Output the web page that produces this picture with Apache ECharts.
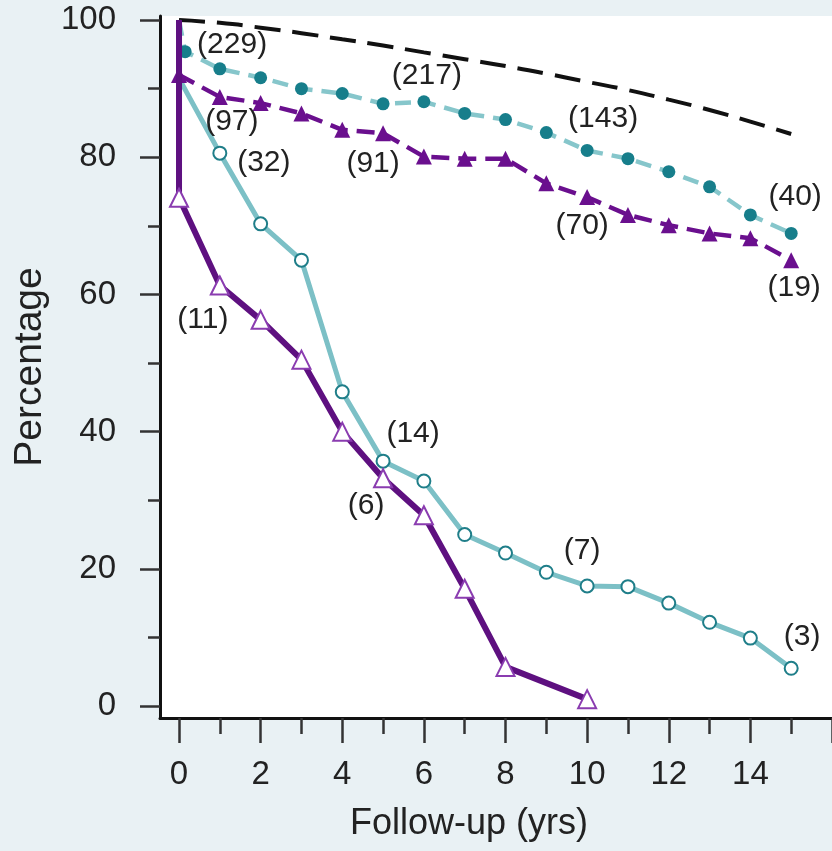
<!DOCTYPE html>
<html>
<head>
<meta charset="utf-8">
<script src="https://cdn.jsdelivr.net/npm/echarts@6/dist/echarts.min.js"></script>
<style>
html,body{margin:0;padding:0;background:#e9f1f4;}
#chart{width:832px;height:851px;}
</style>
</head>
<body>
<div id="chart"></div>
<script>
// ---- data ----
const xTickLabels = [0, 2, 4, 6, 8, 10, 12, 14];
const xMajorTicks = [0, 2, 4, 6, 8, 10, 12, 14, 16];
const xMinorTicks = [1, 3, 5, 7, 9, 11, 13, 15];
const yTickLabels = [0, 20, 40, 60, 80, 100];
const yMinorTicks = [10, 30, 50, 70, 90];

const expectedYears = [0, 1, 2, 3, 4, 5, 6, 7, 8, 9, 10, 11, 12, 13, 14, 15];
const expectedValues = [100, 99.6, 98.9, 98.1, 97.2, 96.3, 95.3, 94.3, 93.3, 92.2, 91.0, 89.8, 88.4, 86.9, 85.2, 83.4];

const tealDashYears = [0, 0.15, 1, 2, 3, 4, 5, 6, 7, 8, 9, 10, 11, 12, 13, 14, 15];
const tealDashValues = [100, 95.4, 92.9, 91.6, 90.0, 89.3, 87.8, 88.1, 86.4, 85.5, 83.6, 81.0, 79.8, 77.9, 75.7, 71.6, 68.9];
const tealDashNotes = ['', '(229)', '', '', '', '', '', '(217)', '', '', '', '(143)', '', '', '', '', '(40)'];

const purpleDashYears = [0, 0, 1, 2, 3, 4, 5, 6, 7, 8, 9, 10, 11, 12, 13, 14, 15];
const purpleDashValues = [100, 92.0, 88.8, 87.9, 86.4, 84.0, 83.5, 80.1, 79.8, 79.8, 76.2, 74.2, 71.6, 70.1, 68.9, 68.2, 65.0];
const purpleDashNotes = ['', '', '(97)', '', '', '', '(91)', '', '', '', '', '(70)', '', '', '', '', '(19)'];

const tealSolidYears = [0, 0, 1, 2, 3, 4, 5, 6, 7, 8, 9, 10, 11, 12, 13, 14, 15];
const tealSolidValues = [100, 91.5, 80.6, 70.3, 65.0, 45.8, 35.7, 32.8, 25.0, 22.3, 19.5, 17.5, 17.4, 15.0, 12.2, 9.9, 5.5];
const tealSolidNotes = ['', '', '(32)', '', '', '', '(14)', '', '', '', '', '(7)', '', '', '', '', '(3)'];

const purpleSolidYears = [0, 0, 1, 2, 3, 4, 5, 6, 7, 8, 10];
const purpleSolidValues = [100, 74.1, 61.3, 56.3, 50.5, 40.0, 33.2, 27.8, 17.1, 5.7, 1.0];
const purpleSolidNotes = ['', '', '(11)', '', '', '', '(6)', '', '', '', ''];

// ---- label offsets (style only) ----
const noteOffsets = {
  '(229)': [47, -7], '(217)': [3, -26], '(143)': [16, -32], '(40)': [4, -37],
  '(97)': [12, 25], '(91)': [-10, 30], '(70)': [-5, 29], '(19)': [3, 28],
  '(32)': [44, 10], '(14)': [30, -27], '(7)': [-5, -35], '(3)': [11, -32],
  '(11)': [-17, 34], '(6)': [-17, 27]
};

const FONT = 'Liberation Sans, Arial, Helvetica, sans-serif';
const TEXT = '#222';

// hiddenCount: how many leading points are drawn without a symbol
function build(xs, ys, notes, hiddenCount) {
  return xs.map((x, i) => {
    const item = { value: [x, ys[i]] };
    if (i < hiddenCount) item.symbol = 'none';
    const n = notes ? notes[i] : '';
    if (n) {
      item.label = {
        show: true, position: 'inside', formatter: n,
        offset: noteOffsets[n], fontSize: 30, color: TEXT, fontFamily: FONT
      };
    }
    return item;
  });
}

const chart = echarts.init(document.getElementById('chart'), null, { renderer: 'canvas' });

const xMin = -0.466, xMax = 16.0, yMin = -1.75, yMax = 100.6;

chart.setOption({
  animation: false,
  backgroundColor: '#e9f1f4',
  grid: { left: 160, right: 0, top: 16, bottom: 133, show: true, backgroundColor: '#ffffff', borderWidth: 0 },
  xAxis: [
    {
      type: 'value', min: xMin, max: xMax, position: 'bottom',
      name: 'Follow-up (yrs)', nameLocation: 'middle', nameGap: 88,
      nameTextStyle: { fontSize: 36, color: TEXT, fontFamily: FONT, padding: [0, 54, 0, 0] },
      axisLine: { show: true, onZero: false, lineStyle: { color: '#111', width: 3 } },
      axisTick: { show: true, customValues: xMajorTicks, length: 25, lineStyle: { color: '#333', width: 2.5 } },
      axisLabel: { show: true, customValues: xTickLabels, margin: 40, fontSize: 33, color: TEXT, fontFamily: FONT },
      splitLine: { show: false }
    },
    {
      type: 'value', min: xMin, max: xMax, position: 'bottom',
      axisLine: { show: false, onZero: false },
      axisTick: { show: true, customValues: xMinorTicks, length: 16, lineStyle: { color: '#333', width: 2.5 } },
      axisLabel: { show: false },
      splitLine: { show: false }
    }
  ],
  yAxis: [
    {
      type: 'value', min: yMin, max: yMax, position: 'left',
      name: 'Percentage', nameLocation: 'middle', nameGap: 110,
      nameTextStyle: { fontSize: 39, color: TEXT, fontFamily: FONT },
      axisLine: { show: true, onZero: false, lineStyle: { color: '#111', width: 3 } },
      axisTick: { show: true, customValues: yTickLabels, length: 20, lineStyle: { color: '#333', width: 2.5 } },
      axisLabel: { show: true, customValues: yTickLabels, margin: 44, fontSize: 33, color: TEXT, fontFamily: FONT },
      splitLine: { show: false }
    },
    {
      type: 'value', min: yMin, max: yMax, position: 'left',
      axisLine: { show: false, onZero: false },
      axisTick: { show: true, customValues: yMinorTicks, length: 12, lineStyle: { color: '#333', width: 2.5 } },
      axisLabel: { show: false },
      splitLine: { show: false }
    }
  ],
  series: [
    {
      name: 'Expected', type: 'line', smooth: 0.5, symbol: 'none',
      data: build(expectedYears, expectedValues, null, 0),
      lineStyle: { color: '#111', width: 4, type: [26, 12] },
      z: 2
    },
    {
      name: 'Teal solid', type: 'line', symbol: 'circle', symbolSize: 13,
      data: build(tealSolidYears, tealSolidValues, tealSolidNotes, 2),
      lineStyle: { color: '#7cc0c6', width: 5 },
      itemStyle: { color: '#ffffff', borderColor: '#1f7e89', borderWidth: 2 },
      z: 3
    },
    {
      name: 'Purple dashed', type: 'line', symbol: 'triangle', symbolSize: 16,
      data: build(purpleDashYears, purpleDashValues, purpleDashNotes, 1),
      lineStyle: { color: '#6a0f8e', width: 4.5, type: [18, 9] },
      itemStyle: { color: '#6a0f8e', borderWidth: 0 },
      z: 4
    },
    {
      name: 'Teal dashed', type: 'line', symbol: 'circle', symbolSize: 13,
      data: build(tealDashYears, tealDashValues, tealDashNotes, 1),
      lineStyle: { color: '#86c6cb', width: 4.5, type: [16, 9] },
      itemStyle: { color: '#177e8b', borderWidth: 0 },
      z: 5
    },
    {
      name: 'Purple solid', type: 'line', symbol: 'triangle', symbolSize: 18,
      data: build(purpleSolidYears, purpleSolidValues, purpleSolidNotes, 1),
      lineStyle: { color: '#5e1080', width: 6 },
      itemStyle: { color: '#ffffff', borderColor: '#8a3cb0', borderWidth: 2 },
      z: 6
    }
  ]
});
</script>
</body>
</html>
